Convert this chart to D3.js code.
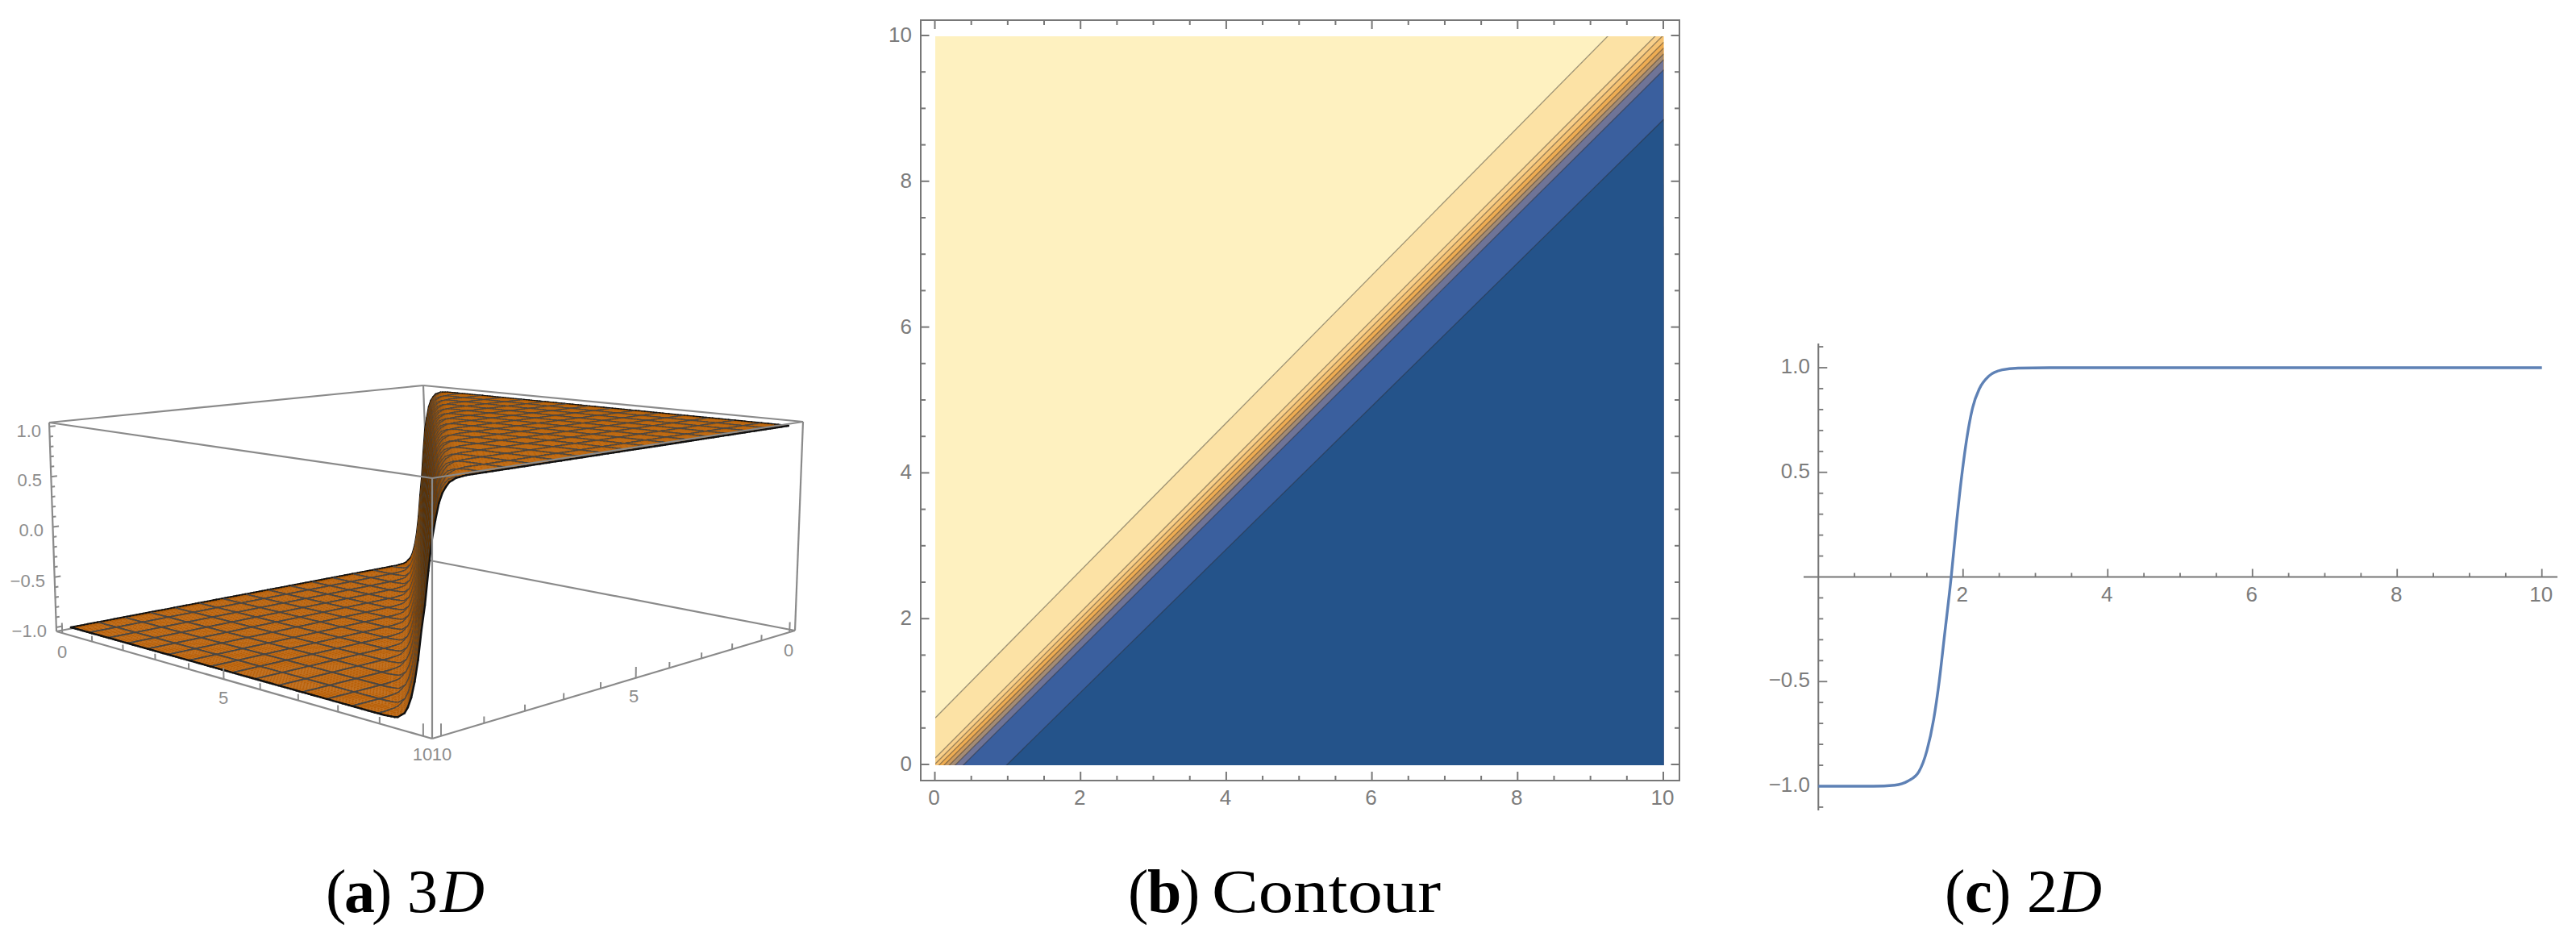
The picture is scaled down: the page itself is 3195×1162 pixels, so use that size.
<!DOCTYPE html>
<html><head><meta charset="utf-8">
<script src="https://cdn.jsdelivr.net/npm/d3@7"></script>
<style>html,body{margin:0;padding:0;background:#fff}svg{display:block}text{font-family:"Liberation Sans",sans-serif}</style>
</head><body><svg id="c" width="3195" height="1162"></svg>
<script>
// ---------- data ----------
const contourTickLabels = [0,2,4,6,8,10];
const contourMinorTicks = d3.range(0,10.01,0.5);
// y-x offset of each contour line at the x=0 end and at the x=10 end
const contourOffsetStart = [0.65,0.10,0.02,-0.05,-0.12,-0.19,-0.27,-0.38,-0.96];
const contourOffsetEnd   = [0.78,0.12,0.02,-0.08,-0.16,-0.24,-0.32,-0.46,-1.14];
const contourColors = ['#FEF1C0','#FCE2A5','#F9D08A','#F6C272','#EFAD53','#CE9C5E','#A58C74','#6F7497','#3A5F9E','#24538A'];

const curveX = [0,0.76,1.055,1.24,1.39,1.50,1.594,1.67,1.74,1.836,1.91,1.984,2.06,2.133,2.226,2.356,2.54,2.76,3.2,10];
const curveY = [-1,-1,-0.995,-0.975,-0.93,-0.83,-0.68,-0.5,-0.29,0,0.26,0.49,0.68,0.81,0.90,0.96,0.99,0.998,1,1];
const plot2dXLabels = [2,4,6,8,10];
const plot2dYLabels = [-1,-0.5,0.5,1];

// surface height against (y - x)
const surfaceC = [-10.5,-1.1,-0.8,-0.6,-0.49,-0.40,-0.32,-0.25,-0.15,-0.08,-0.01,0.07,0.14,0.24,0.37,0.55,0.77,10.5];
const surfaceZ = [-1,-1,-0.99,-0.93,-0.83,-0.68,-0.5,-0.27,0,0.26,0.5,0.66,0.79,0.89,0.96,0.99,1,1];
const shadeC = [-10.5,-0.9,-0.6,-0.4,-0.25,-0.15,-0.05,0.15,0.4,0.7,10.5];
const shadeColors = ['#B85F08','#B85F08','#AE5A07','#94500A','#7A4408','#603506','#5A3206','#74400A','#A0560A','#BA6106','#BA6106'];
const axis3dLabels = [0,5,10];
const axisZLabels = [-1,-0.5,0,0.5,1];

// ---------- helpers ----------
const svg = d3.select('#c');
const GRAY = '#777';
const LABEL = '#7c7c7c';
const line = d3.line();
function seg(g,p,q,col,w,op,cap){ g.append('line').attr('x1',p[0]).attr('y1',p[1]).attr('x2',q[0]).attr('y2',q[1])
  .attr('stroke',col).attr('stroke-width',w).attr('stroke-opacity',op==null?1:op).attr('stroke-linecap',cap||'butt'); }
function label(g,x,y,t,anchor,size,col){ return g.append('text').attr('x',x).attr('y',y).attr('text-anchor',anchor)
  .attr('dominant-baseline','central').attr('font-size',size).attr('fill',col).text(t); }
const fmt = v => { const s = Number.isInteger(v) ? v.toFixed(1) : String(v); return s.replace('-','\u2212'); };

// ---------- panel (a): 3D surface ----------
(function(){
  const g = svg.append('g');
  const baseC = {B:[533,695],R:[986,782],F:[536,916],L:[70,783]};
  const topC  = {B:[525,478],R:[996,523],F:[536,593],L:[61,524]};
  function homography(c){
    const [x0,y0]=c.B,[x1,y1]=c.R,[x2,y2]=c.F,[x3,y3]=c.L;
    const dx1=x1-x2,dx2=x3-x2,sx=x0-x1+x2-x3,dy1=y1-y2,dy2=y3-y2,sy=y0-y1+y2-y3;
    const den=dx1*dy2-dx2*dy1, G=(sx*dy2-dx2*sy)/den, H=(dx1*sy-sx*dy1)/den;
    const A=x1-x0+G*x1,B=x3-x0+H*x3,D=y1-y0+G*y1,E=y3-y0+H*y3;
    return (u,v)=>{const w=G*u+H*v+1;return [(A*u+B*v+x0)/w,(D*u+E*v+y0)/w];};
  }
  const h0=homography(baseC), h1=homography(topC);
  const uS=d3.scaleLinear([-0.2,10.2],[0,1]), vS=d3.scaleLinear([-0.2,10.2],[0,1]);
  const zS=d3.scaleLinear([-1.04,1.04],[0,1]);
  const P=(x,y,z)=>{const u=uS(y),v=vS(x),t=zS(z),a=h0(u,v),b=h1(u,v);return [a[0]+(b[0]-a[0])*t,a[1]+(b[1]-a[1])*t];};
  const hAt=d3.scaleLinear(surfaceC,surfaceZ);
  const col=d3.scaleLinear(shadeC,shadeColors).interpolate(d3.interpolateRgb);
  const meshW=d3.scaleLinear([0,0.5,1.0],[0.9,1.1,1.8]).clamp(true);
  const f=(x,y)=>hAt(y-x);
  const lo=-0.2,hi=10.2,zl=-1.04,zh=1.04;
  const BOX='#8a8a8a';
  // back box edges
  seg(g,P(lo,lo,zh),P(hi,lo,zh),BOX,2.2);
  seg(g,P(lo,lo,zh),P(lo,hi,zh),BOX,2.2);
  seg(g,P(lo,lo,zh),P(lo,lo,zl),BOX,2.2);
  seg(g,P(lo,lo,zl),P(hi,lo,zl),BOX,2.2);
  seg(g,P(lo,lo,zl),P(lo,hi,zl),BOX,2.2);
  // surface, painted back to front
  const N=128, st=10/N, every=8;
  const cells=[];
  d3.range(N).forEach(i=>d3.range(N).forEach(j=>cells.push([i,j])));
  cells.sort((a,b)=>(a[0]+a[1])-(b[0]+b[1]));
  const sg=g.append('g');
  const MESH='#474747';
  cells.forEach(([i,j])=>{
    const x0=i*st,x1=(i+1)*st,y0=j*st,y1=(j+1)*st;
    const a=P(x0,y0,f(x0,y0)),b=P(x1,y0,f(x1,y0)),c=P(x1,y1,f(x1,y1)),d=P(x0,y1,f(x0,y1));
    const cc=(y0+y1)/2-(x0+x1)/2, fc=col(cc), w=meshW(Math.abs(cc+0.15));
    sg.append('path').attr('d',line([a,b,c,d])+'Z').attr('fill',fc).attr('stroke',fc).attr('stroke-width',0.3);
    if(i%every===0&&i>0) seg(sg,a,d,MESH,w,1,'square');
    if(j%every===0&&j>0) seg(sg,a,b,MESH,w,1,'square');
    if((i+1)%every===0&&i+1<N) seg(sg,b,c,MESH,w,1,'square');
    if((j+1)%every===0&&j+1<N) seg(sg,d,c,MESH,w,1,'square');
    if(i===0) seg(sg,a,d,'#111',2.4,1,'round');
    if(j===0) seg(sg,a,b,'#111',2.4,1,'round');
    if(i===N-1) seg(sg,b,c,'#111',2.4,1,'round');
    if(j===N-1) seg(sg,d,c,'#111',2.4,1,'round');
  });
  // front box edges
  seg(g,P(hi,lo,zh),P(hi,hi,zh),BOX,2.2);
  seg(g,P(lo,hi,zh),P(hi,hi,zh),BOX,2.2);
  seg(g,P(hi,hi,zh),P(hi,hi,zl),BOX,2.2);
  seg(g,P(hi,lo,zh),P(hi,lo,zl),BOX,2.2);
  seg(g,P(lo,hi,zh),P(lo,hi,zl),BOX,2.2);
  seg(g,P(hi,lo,zl),P(hi,hi,zl),BOX,2.2);
  seg(g,P(lo,hi,zl),P(hi,hi,zl),BOX,2.2);
  // base ticks
  d3.range(0,11).forEach(t=>{
    const hgt=(t%5===0)?0.10:0.055;
    seg(g,P(hi,t,zl),P(hi,t,zl+hgt),BOX,2);
    seg(g,P(t,hi,zl),P(t,hi,zl+hgt),BOX,2);
  });
  // z ticks
  d3.range(-10,11).forEach(k=>{
    const z=k/10, major=(k%5===0);
    seg(g,P(hi,lo,z),P(hi-(major?0.14:0.08),lo,z),BOX,2);
  });
  const fs=22, LC='#8d8d8d';
  [[axisZLabels[0],58,782],[axisZLabels[1],56,720],[axisZLabels[2],54,657],[axisZLabels[3],52,595],[axisZLabels[4],51,534]]
    .forEach(([v,x,y])=>label(g,x,y,fmt(v),'end',fs,LC));
  [[axis3dLabels[0],77,808],[axis3dLabels[1],277,865],[axis3dLabels[2],524,935],[axis3dLabels[2],548,935],[axis3dLabels[1],786,863],[axis3dLabels[0],978,806]]
    .forEach(([v,x,y])=>label(g,x,y,v,'middle',fs,LC));
})();

// ---------- panel (b): contour ----------
(function(){
  const g=svg.append('g');
  const x=d3.scaleLinear([0,10],[1159.5,2063]), y=d3.scaleLinear([0,10],[948,44]);
  const L=1142,R=2083,T=25,B=968;
  svg.append('defs').append('clipPath').attr('id','cp').append('rect')
    .attr('x',x(0)+0.5).attr('y',y(10)+1).attr('width',x(10)-x(0)).attr('height',y(0)-y(10));
  const fg=g.append('g').attr('clip-path','url(#cp)');
  fg.append('rect').attr('x',x(0)).attr('y',y(10)).attr('width',x(10)-x(0)+2).attr('height',y(0)-y(10)+2).attr('fill',contourColors[0]);
  contourOffsetStart.forEach((c0,k)=>{
    const c1=contourOffsetEnd[k];
    const p0=[x(0)+0.5,y(c0)+1], p1=[x(10)+0.5,y(10+c1)+1];
    fg.append('path').attr('d',line([p0,p1,[x(10)+2,y(-5)],[x(0),y(-5)]])+'Z').attr('fill',contourColors[k+1]);
  });
  contourOffsetStart.forEach((c0,k)=>{
    const c1=contourOffsetEnd[k];
    seg(fg,[x(0)+0.5,y(c0)+1],[x(10)+0.5,y(10+c1)+1],'#2a2a2a',1.3,0.45);
  });
  contourMinorTicks.forEach(t=>{
    const major=(t%2===0);
    const l=major?11:6, m=major?10.5:6;
    seg(g,[x(t),B],[x(t),B-l],GRAY,2); seg(g,[x(t),T],[x(t),T+l],GRAY,2);
    seg(g,[L,y(t)],[L+m,y(t)],GRAY,2); seg(g,[R,y(t)],[R-m,y(t)],GRAY,2);
  });
  g.append('rect').attr('x',L).attr('y',T).attr('width',R-L).attr('height',B-T).attr('fill','none').attr('stroke',GRAY).attr('stroke-width',2);
  contourTickLabels.forEach(t=>{
    label(g,x(t)-1,989,t,'middle',26,LABEL);
    label(g,1131,y(t)-1,t,'end',26,LABEL);
  });
})();

// ---------- panel (c): 2D ----------
(function(){
  const g=svg.append('g');
  const x=d3.scaleLinear([0,10],[2255.3,3152.7]), y=d3.scaleLinear([-1,1],[975,456]);
  seg(g,[x(0),426],[x(0),1005],GRAY,2);
  seg(g,[2237,y(0)],[3172,y(0)],GRAY,2);
  d3.range(-11,12).forEach(k=>{ if(k===0)return; const v=k/10, major=(k%5===0);
    seg(g,[x(0),y(v)],[x(0)+(major?11:6),y(v)],GRAY,1.8); });
  d3.range(1,21).forEach(k=>{ const v=k/2, major=(k%4===0);
    seg(g,[x(v),y(0)],[x(v),y(0)-(major?10:5)],GRAY,1.8); });
  plot2dYLabels.forEach(v=>label(g,2245,y(v)-2,fmt(v),'end',26,LABEL));
  plot2dXLabels.forEach(v=>label(g,x(v)-1,737,v,'middle',26,LABEL));
  g.append('path').attr('d',d3.line().x((d,i)=>x(curveX[i])).y(d=>y(d)).curve(d3.curveMonotoneX)(curveY))
    .attr('fill','none').attr('stroke','#5E81B5').attr('stroke-width',3.4);
})();

// ---------- captions ----------
(function(){
  const g=svg.append('g').attr('font-size',76).attr('fill','#000');
  const t=(x,s,o={})=>{const e=g.append('text').attr('x',x).attr('y',1131).style('font-family','"Liberation Serif",serif').text(s);
    if(o.b)e.attr('font-weight','bold'); if(o.i)e.attr('font-style','italic');
    if(o.len)e.attr('textLength',o.len).attr('lengthAdjust','spacingAndGlyphs'); return e;};
  t(404,'('); t(427,'a',{b:1}); t(461,')'); t(505,'3'); t(546,'D',{i:1});
  t(1399,'('); t(1423,'b',{b:1}); t(1463,')'); t(1503,'Contour',{len:284});
  t(2412,'('); t(2437,'c',{b:1}); t(2469,')'); t(2514,'2'); t(2552,'D',{i:1});
})();
</script></body></html>
